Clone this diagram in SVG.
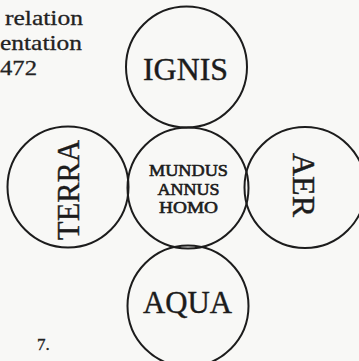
<svg xmlns="http://www.w3.org/2000/svg" width="359" height="361" viewBox="0 0 359 361">
<style>
.c{fill:none;stroke:#1c1c1c;stroke-width:2}
.t{font-family:"Liberation Serif","DejaVu Serif",serif;fill:#1c1c1c;text-anchor:middle;stroke:#1c1c1c;stroke-width:0.4}
.s{stroke-width:0.6}
.cap{font-family:"Liberation Serif","DejaVu Serif",serif;fill:#222;stroke:#222;stroke-width:0.3}
</style>
<rect width="359" height="361" fill="#f8f8f6"/>
<g id="caption">
<text class="cap" x="5" y="25" font-size="22" textLength="78" lengthAdjust="spacingAndGlyphs">relation</text>
<text class="cap" x="0" y="50" font-size="22" textLength="82" lengthAdjust="spacingAndGlyphs">entation</text>
<text class="cap" x="0" y="75" font-size="22" textLength="37" lengthAdjust="spacingAndGlyphs">472</text>
<text class="cap" x="37" y="350" font-size="17" fill="#333" stroke="#333">7.</text>
</g>
<g id="connectors"></g>
<g id="ignis">
<circle class="c" cx="186.5" cy="67" r="60.5"/>
<text class="t" x="185.5" y="80" font-size="32" textLength="85" lengthAdjust="spacingAndGlyphs">IGNIS</text>
</g>
<g id="center">
<circle class="c" cx="188" cy="188" r="60.5"/>
<text class="t s" x="188.5" y="176" font-size="17" textLength="79" lengthAdjust="spacingAndGlyphs">MUNDUS</text>
<text class="t s" x="188.5" y="195" font-size="17" textLength="62" lengthAdjust="spacingAndGlyphs">ANNUS</text>
<text class="t s" x="188.5" y="213" font-size="17" textLength="59" lengthAdjust="spacingAndGlyphs">HOMO</text>
</g>
<g id="terra">
<circle class="c" cx="68" cy="187" r="60.5"/>
<text class="t" transform="translate(79,190) rotate(-90)" font-size="32" textLength="100" lengthAdjust="spacingAndGlyphs">TERRA</text>
</g>
<g id="aer">
<circle class="c" cx="305" cy="187.5" r="60.5"/>
<text class="t" transform="translate(293,185) rotate(90)" font-size="32" textLength="64" lengthAdjust="spacingAndGlyphs">AER</text>
</g>
<g id="aqua">
<circle class="c" cx="188" cy="306" r="60.5"/>
<text class="t" x="187.5" y="313" font-size="31" textLength="89" lengthAdjust="spacingAndGlyphs">AQUA</text>
</g>
</svg>
